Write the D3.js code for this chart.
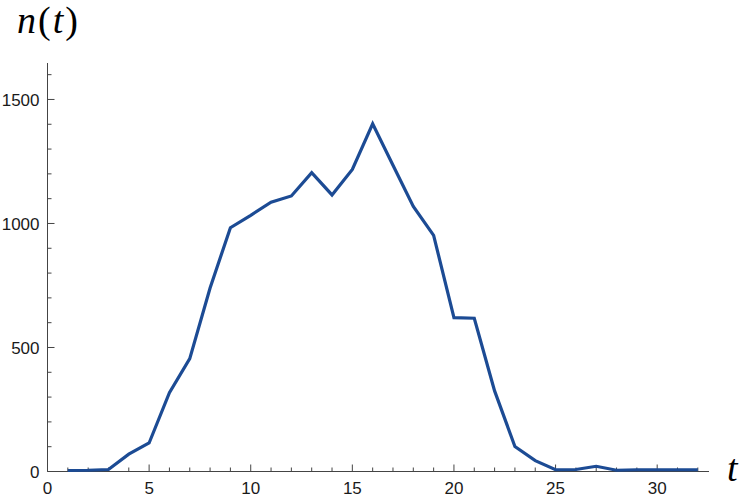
<!DOCTYPE html>
<html>
<head>
<meta charset="utf-8">
<script src="https://cdn.jsdelivr.net/npm/d3@7"></script>
<style>
  body { margin: 0; background: #fff; }
  .tick text { font-family: "Liberation Sans", Arial, sans-serif; font-size: 17px; fill: #1a1a1a; }
  .axis path, .axis line { stroke: #444; }
  .lbl { font-family: "Liberation Serif", "Times New Roman", serif; font-size: 38px; fill: #000; }
</style>
</head>
<body>
<div id="chartArea"></div>
<script>
// t values and n(t) counts
var tValues = [1, 2, 3, 4, 5, 6, 7, 8, 9, 10, 11, 12, 13, 14, 15, 16,
               17, 18, 19, 20, 21, 22, 23, 24, 25, 26, 27, 28, 29, 30, 31, 32];
var nValues = [4, 5, 8, 70, 115, 318, 455, 740, 983, 1033, 1086, 1111, 1205, 1115, 1218, 1402,
               1235, 1069, 952, 620, 618, 325, 101, 44, 7, 8, 21, 5, 7, 7, 7, 7];
var xMajorTicks = [0, 5, 10, 15, 20, 25, 30];
var yMajorTicks = [0, 500, 1000, 1500];

var width = 747, height = 500;
var svg = d3.select("#chartArea").append("svg")
    .attr("width", width).attr("height", height);

var x = d3.scaleLinear().domain([0, 32.55]).range([47.5, 709]);
var y = d3.scaleLinear().domain([0, 1647]).range([471.5, 63]);

// x axis: ticks drawn inward (upward)
var xMinor = d3.range(0, 33, 1).filter(function(d) { return d % 5 != 0; });
var gx = svg.append("g").attr("class", "axis axis--x")
    .attr("transform", "translate(0," + y(0) + ")");
gx.append("path").attr("d", "M" + x(0) + ",0H" + x.range()[1]);
gx.selectAll(".minor").data(xMinor).enter().append("line")
    .attr("x1", function(d) { return x(d); }).attr("x2", function(d) { return x(d); })
    .attr("y1", 0).attr("y2", -4);
var xt = gx.selectAll(".tick").data(xMajorTicks).enter().append("g")
    .attr("class", "tick")
    .attr("transform", function(d) { return "translate(" + x(d) + ",0)"; });
xt.append("line").attr("y1", 0).attr("y2", -7);
xt.append("text").attr("y", 22).attr("text-anchor", "middle").text(function(d) { return d; });

// y axis: ticks drawn inward (rightward)
var yMinor = d3.range(0, 1700, 100).filter(function(d) { return d % 500 != 0; });
var gy = svg.append("g").attr("class", "axis axis--y")
    .attr("transform", "translate(" + x(0) + ",0)");
gy.append("path").attr("d", "M0," + y(0) + "V" + y.range()[1]);
gy.selectAll(".minor").data(yMinor).enter().append("line")
    .attr("y1", function(d) { return y(d); }).attr("y2", function(d) { return y(d); })
    .attr("x1", 0).attr("x2", 4);
var yt = gy.selectAll(".tick").data(yMajorTicks).enter().append("g")
    .attr("class", "tick")
    .attr("transform", function(d) { return "translate(0," + y(d) + ")"; });
yt.append("line").attr("x1", 0).attr("x2", 7);
yt.append("text").attr("x", -8).attr("dy", "0.36em").attr("text-anchor", "end")
    .text(function(d) { return d; });

// the line
var line = d3.line()
    .x(function(d, i) { return x(tValues[i]); })
    .y(function(d) { return y(d); });
svg.append("path").datum(nValues)
    .attr("d", line)
    .attr("fill", "none")
    .attr("stroke", "#1c4b94")
    .attr("stroke-width", 3.2)
    .attr("stroke-linejoin", "miter");

// axis labels: italic variables, upright parentheses
var ylab = svg.append("text").attr("class", "lbl").attr("x", 17).attr("y", 33)
    .style("letter-spacing", "2px");
ylab.append("tspan").style("font-style", "italic").text("n");
ylab.append("tspan").text("(");
ylab.append("tspan").style("font-style", "italic").text("t");
ylab.append("tspan").text(")");
svg.append("text").attr("class", "lbl")
    .attr("x", 727).attr("y", 481)
    .style("font-style", "italic")
    .text("t");
</script>
</body>
</html>
